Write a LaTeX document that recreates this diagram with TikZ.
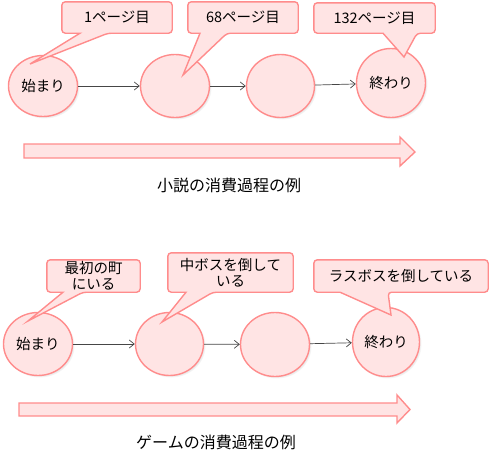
\documentclass[tikz,border=0pt]{standalone}
\usepackage{fontspec}
\setmainfont{Noto Sans CJK JP}
\usetikzlibrary{shapes.geometric,shadows,arrows.meta}
\definecolor{pinkfill}{RGB}{255,228,228}
\definecolor{pinkline}{RGB}{255,140,140}
\definecolor{connc}{RGB}{70,70,70}
\pgfdeclarelayer{mid}
\pgfdeclarelayer{top}
\pgfsetlayers{main,mid,top}
\newcommand\calloutpath[4]{%
  \draw[cbox] (#1.north) -- (#1.north east) -- (#1.south east)
    -- (#1.south -| #3,0) [sharp corners] -- (#4) -- (#1.south -| #2,0)
    [rounded corners=3.5pt] -- (#1.south west) -- (#1.north west) -- cycle;}
\begin{document}
\begin{tikzpicture}[x=1pt,y=-1pt,
  stage/.style={ellipse,draw=pinkline,fill=pinkfill,line width=1.4pt,inner sep=0pt,
    font=\fontsize{14.5}{16}\selectfont,
    circular drop shadow={shadow xshift=1.5pt,shadow yshift=-1.5pt,shadow scale=1.02,opacity=0.35}},
  ctext/.style={inner sep=0pt,align=center,font=\fontsize{14.5}{16}\selectfont},
  cbox/.style={draw=pinkline,fill=pinkfill,line width=1.4pt,rounded corners=3.5pt},
  conn/.style={draw=connc,line width=0.7pt,-{Straight Barb[length=5pt,width=8pt]}},
  bigarrow/.style={draw=pinkline,fill=pinkfill,line width=1.4pt},
  caption/.style={inner sep=0pt,font=\fontsize{16}{18}\selectfont}]
\useasboundingbox (0,0) rectangle (490,455);

% ---- top row: novel ----
\node[stage,minimum width=69pt,minimum height=61pt] (c1) at (43,86) {始まり};
\node[stage,minimum width=69pt,minimum height=63pt] (c2) at (175,86) {};
\node[stage,minimum width=68pt,minimum height=63pt] (c3) at (280.5,86) {};
\node[stage,minimum width=69pt,minimum height=69pt] (c4) at (391,83) {終わり};
\draw[conn] (c1) -- (c2);
\draw[conn] (c2) -- (c3);
\draw[conn] (c3) -- (c4);

\coordinate (t1) at (30,64);
\coordinate (t2) at (183,75);
\coordinate (t3) at (404,57);
\begin{pgfonlayer}{top}
\node[ctext,minimum width=110pt,minimum height=31pt] (p1) at (117,17.5) {1ページ目};
\node[ctext,minimum width=110pt,minimum height=31pt] (p2) at (243,17.5) {68ページ目};
\node[ctext,minimum width=121pt,minimum height=30pt] (p3) at (374.5,18) {132ページ目};
\end{pgfonlayer}
\begin{pgfonlayer}{mid}
\calloutpath{p1}{80}{108}{t1}
\calloutpath{p2}{200}{227}{t2}
\calloutpath{p3}{383}{417}{t3}
\end{pgfonlayer}

\draw[bigarrow] (24,144) -- (400,144) -- (400,137) -- (415,152) -- (400,166)
  -- (400,158) -- (24,158) -- cycle;
\node[caption] (cap1) at (229,185) {小説の消費過程の例};

% ---- bottom row: game ----
\node[stage,minimum width=69pt,minimum height=63pt] (d1) at (38,344) {始まり};
\node[stage,minimum width=68pt,minimum height=63pt] (d2) at (169.5,344) {};
\node[stage,minimum width=69pt,minimum height=64pt] (d3) at (275,344.5) {};
\node[stage,minimum width=67pt,minimum height=69pt] (d4) at (386,342) {終わり};
\draw[conn] (d1) -- (d2);
\draw[conn] (d2) -- (d3);
\draw[conn] (d3) -- (d4);

\coordinate (u1) at (28,321);
\coordinate (u2) at (162,322);
\coordinate (u3) at (391,315);
\begin{pgfonlayer}{top}
\node[ctext,minimum width=93pt,minimum height=32pt] (q1) at (93.5,276) {最初の町\\にいる};
\node[ctext,minimum width=125pt,minimum height=39pt] (q2) at (230.5,272.5) {中ボスを倒して\\いる};
\node[ctext,minimum width=174pt,minimum height=32pt] (q3) at (401,276) {ラスボスを倒している};
\end{pgfonlayer}
\begin{pgfonlayer}{mid}
\calloutpath{q1}{63}{83}{u1}
\calloutpath{q2}{186}{213}{u2}
\calloutpath{q3}{340}{388}{u3}
\end{pgfonlayer}

\draw[bigarrow] (19,403) -- (397,403) -- (397,395) -- (410,409.5) -- (397,423)
  -- (397,416) -- (19,416) -- cycle;
\node[caption] (cap2) at (216,442) {ゲームの消費過程の例};
\end{tikzpicture}
\end{document}
